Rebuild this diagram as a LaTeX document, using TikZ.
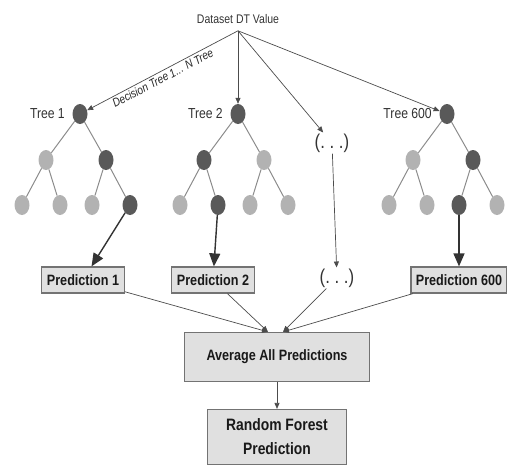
\documentclass[tikz,border=0pt]{standalone}
\usepackage{fontspec}
\setmainfont{Liberation Sans}[FakeStretch=0.84]
\usetikzlibrary{arrows.meta,positioning,shapes.geometric}

\begin{document}
\begin{tikzpicture}[x=1pt, y=-1pt,
    darknode/.style={ellipse, fill=black!65, minimum width=15pt, minimum height=20pt, inner sep=0pt},
    lightnode/.style={ellipse, fill=black!30, minimum width=15pt, minimum height=20pt, inner sep=0pt},
    branch/.style={black!45, line width=1pt},
    feed/.style={-{Triangle[length=6pt,width=5pt]}, black!70, line width=0.7pt},
    pick/.style={-{Triangle[length=13pt,width=11pt]}, black!80, line width=1.4pt},
    predbox/.style={draw=black!55, fill=black!12, line width=1.2pt, text=black!90,
        font=\fontsize{15}{17}\selectfont\bfseries, inner xsep=5pt, minimum height=26pt},
    treelabel/.style={font=\fontsize{14.5}{16}\selectfont, text=black!80}]
    \useasboundingbox (0,0) rectangle (507,466);

    % Input
    \node[font=\fontsize{12.5}{14}\selectfont, text=black!80, inner ysep=7pt] (data) at (238,19) {Dataset DT Value};

    % Trees
    \foreach \tn/\rx/\lbl/\ca/\cb/\caa/\cab/\cba/\cbb in {
        1/80/{Tree 1}/lightnode/darknode/lightnode/lightnode/lightnode/darknode,
        2/238/{Tree 2}/darknode/lightnode/lightnode/darknode/lightnode/lightnode,
        3/447/{Tree 600}/lightnode/darknode/lightnode/lightnode/darknode/lightnode} {
        \node[darknode] (t\tn r) at (\rx,114) {};
        \node[\ca] (t\tn a) at (\rx-34,160) {};
        \node[\cb] (t\tn b) at (\rx+26,160) {};
        \node[\caa] (t\tn aa) at (\rx-58,205) {};
        \node[\cab] (t\tn ab) at (\rx-20,205) {};
        \node[\cba] (t\tn ba) at (\rx+12,205) {};
        \node[\cbb] (t\tn bb) at (\rx+50,205) {};
        \node[treelabel, left=4pt of t\tn r] (lbl\tn) {\lbl};
        \draw[branch] (t\tn r) -- (t\tn a);
        \draw[branch] (t\tn r) -- (t\tn b);
        \draw[branch] (t\tn a) -- (t\tn aa);
        \draw[branch] (t\tn a) -- (t\tn ab);
        \draw[branch] (t\tn b) -- (t\tn ba);
        \draw[branch] (t\tn b) -- (t\tn bb);
    }

    % Placeholder for the other trees
    \node[font=\fontsize{20}{22}\selectfont, text=black!80, inner sep=1pt] (dotsA) at (332,143) {(.\ .\ .)};
    \node[font=\fontsize{20}{22}\selectfont, text=black!80, inner sep=1pt] (dotsB) at (337,278) {(.\ .\ .)};

    % Dataset to every tree
    \draw[feed] (data.south) -- (t1r)
        node[pos=0.52, sloped, below, inner sep=2pt, font=\fontsize{12}{14}\selectfont\itshape, text=black!85] {Decision Tree 1... N Tree};
    \draw[feed] (data.south) -- (t2r);
    \draw[feed] (data.south) -- (dotsA);
    \draw[feed] (data.south) -- (t3r);
    \draw[feed] (dotsA) -- (dotsB);

    % Predictions
    \node[predbox, minimum width=83pt] (p1) at (83,280) {Prediction 1};
    \node[predbox, minimum width=83pt] (p2) at (213,280) {Prediction 2};
    \node[predbox, minimum width=92pt] (p3) at (459,280) {Prediction 600};

    \draw[pick] (t1bb) -- (p1);
    \draw[pick] (t2ab) -- (p2);
    \draw[pick] (t3ba) -- (p3);

    % Aggregation
    \node[predbox, minimum width=185pt, minimum height=49pt] (avg) at (277,357) {Average All Predictions};
    \node[predbox, minimum width=139pt, minimum height=55pt, align=center,
        font=\fontsize{16.5}{24}\selectfont\bfseries] (rf) at (277,437) {Random Forest\\Prediction};

    \draw[feed] (p1) -- ([xshift=-9pt]avg.north);
    \draw[feed] (p2) -- ([xshift=-9pt]avg.north);
    \draw[feed] (dotsB) -- ([xshift=6pt]avg.north);
    \draw[feed] (p3) -- ([xshift=6pt]avg.north);
    \draw[feed] (avg) -- (rf);
\end{tikzpicture}
\end{document}
